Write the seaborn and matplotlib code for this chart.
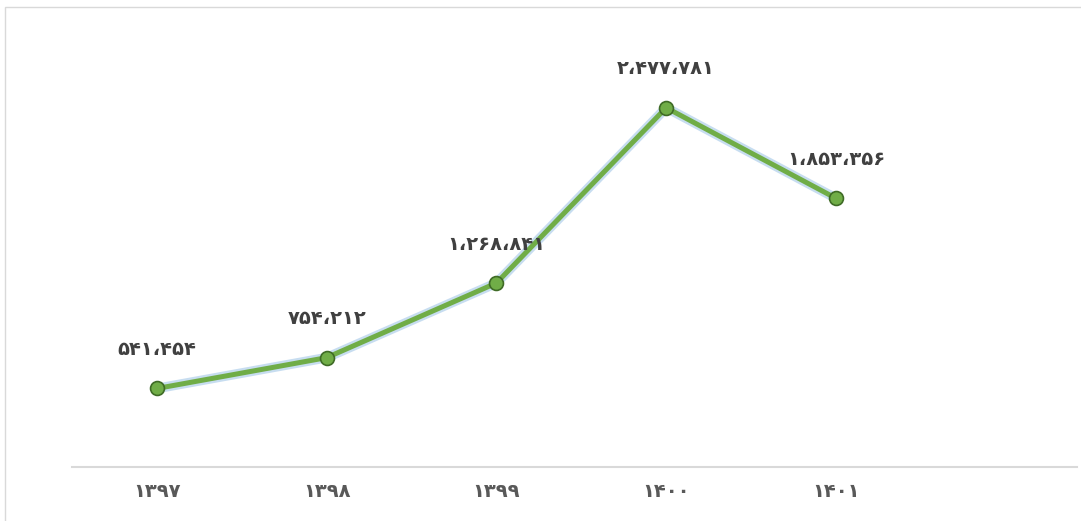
import seaborn as sns
import matplotlib.pyplot as plt
from matplotlib.patches import Rectangle
import pandas as pd

# data
years = ['۱۳۹۷', '۱۳۹۸', '۱۳۹۹', '۱۴۰۰', '۱۴۰۱']
values = [541454, 754212, 1268841, 2477781, 1853356]
value_labels = ['۵۴۱،۴۵۴', '۷۵۴،۲۱۲', '۱،۲۶۸،۸۴۱', '۲،۴۷۷،۷۸۱', '۱،۸۵۳،۳۵۶']

df = pd.DataFrame({'pos': range(len(years)), 'value': values})

sns.set_style('white')
plt.rcParams['font.family'] = ['DejaVu Sans']

fig = plt.figure(figsize=(10.81, 5.21), dpi=100)
ax = fig.add_axes([72 / 1081, 1 - 467 / 521, (1077 - 72) / 1081, (467 - 32) / 521])

# soft blue glow under the line
ax.plot(df['pos'], df['value'], color='#BDD7EE', lw=7, alpha=0.85,
        solid_capstyle='round', zorder=1)
sns.lineplot(data=df, x='pos', y='value', ax=ax, color='#70AD47', lw=3.6,
             marker='o', markersize=10, markerfacecolor='#70AD47',
             markeredgecolor='#3F6B26', markeredgewidth=1.2, zorder=2)

for i, (v, lab) in enumerate(zip(values, value_labels)):
    ax.annotate(lab, (i, v), xytext=(0, 28), textcoords='offset points',
                ha='center', va='center', fontsize=14, fontweight='bold',
                color='#404040')

ax.set_xlim(-0.5, 5.42)
ax.set_ylim(0, 3000000)
ax.set_xticks(range(len(years)))
ax.set_xticklabels(years, fontsize=14, fontweight='bold', color='#595959')
ax.tick_params(axis='x', length=0, pad=11)
ax.set_yticks([])
ax.set_xlabel('')
ax.set_ylabel('')
for s in ['top', 'right', 'left']:
    ax.spines[s].set_visible(False)
ax.spines['bottom'].set_color('#D9D9D9')
ax.spines['bottom'].set_linewidth(1.5)

# chart frame
fig.patches.append(Rectangle((5 / 1081, -0.02), 1.1, 1 - 7 / 521 + 0.02,
                             transform=fig.transFigure, fill=False,
                             edgecolor='#D9D9D9', lw=1))

fig.savefig('out.png', dpi=100)
